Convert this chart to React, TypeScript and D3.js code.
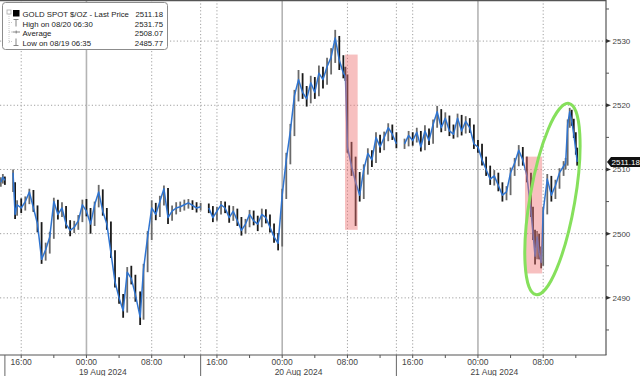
import React from 'react';
import * as d3 from 'd3';

// ---------------- DATA ----------------
const TIMES = [
  // 18 Aug late session
  "08-18 13:30", "08-18 13:45", "08-18 14:00",
  // 18 Aug 15:00 -> 19 Aug 14:00
  "08-18 15:00", "08-18 15:15", "08-18 15:30", "08-18 16:00", "08-18 16:30", "08-18 17:00", "08-18 17:30", "08-18 18:00", "08-18 18:30", "08-18 19:00", "08-18 19:30", "08-18 20:00", "08-18 20:30", "08-18 21:00", "08-18 21:30", "08-18 22:00", "08-18 22:30", "08-18 23:00", "08-18 23:30",
  "08-19 00:00", "08-19 00:30", "08-19 01:00", "08-19 01:30", "08-19 02:00", "08-19 02:30", "08-19 03:00", "08-19 03:30", "08-19 04:00", "08-19 04:30", "08-19 05:00", "08-19 05:30", "08-19 06:00", "08-19 06:35", "08-19 07:00", "08-19 07:30", "08-19 08:00", "08-19 08:30", "08-19 09:00", "08-19 09:30", "08-19 10:00", "08-19 10:30", "08-19 11:00", "08-19 11:30", "08-19 12:00", "08-19 12:30", "08-19 13:00", "08-19 13:30", "08-19 14:00",
  // 19 Aug 15:00 -> 20 Aug 14:00
  "08-19 15:00", "08-19 15:30", "08-19 16:00", "08-19 16:30", "08-19 17:00", "08-19 17:30", "08-19 18:00", "08-19 18:30", "08-19 19:00", "08-19 19:30", "08-19 20:00", "08-19 20:30", "08-19 21:00", "08-19 21:30", "08-19 22:00", "08-19 22:30", "08-19 23:00", "08-19 23:30",
  "08-20 00:00", "08-20 00:30", "08-20 01:00", "08-20 01:30", "08-20 02:00", "08-20 02:30", "08-20 03:00", "08-20 03:30", "08-20 04:00", "08-20 04:30", "08-20 05:00", "08-20 05:30", "08-20 06:00", "08-20 06:30", "08-20 07:00", "08-20 07:30", "08-20 07:45", "08-20 08:00", "08-20 08:30", "08-20 09:00", "08-20 09:30", "08-20 10:00", "08-20 10:30", "08-20 11:00", "08-20 11:30", "08-20 12:00", "08-20 12:30", "08-20 13:00", "08-20 13:30", "08-20 14:00",
  // 20 Aug 15:00 -> 21 Aug
  "08-20 15:00", "08-20 15:30", "08-20 16:00", "08-20 16:30", "08-20 17:00", "08-20 17:30", "08-20 18:00", "08-20 18:30", "08-20 19:00", "08-20 19:30", "08-20 20:00", "08-20 20:30", "08-20 21:00", "08-20 21:30", "08-20 22:00", "08-20 22:30", "08-20 23:00", "08-20 23:30",
  "08-21 00:00", "08-21 00:30", "08-21 01:00", "08-21 01:30", "08-21 02:00", "08-21 02:30", "08-21 03:00", "08-21 03:30", "08-21 04:00", "08-21 04:30", "08-21 05:00", "08-21 05:30", "08-21 06:00", "08-21 06:30", "08-21 06:45", "08-21 07:00", "08-21 07:15", "08-21 07:30", "08-21 07:45", "08-21 08:00", "08-21 08:30", "08-21 09:00", "08-21 09:30", "08-21 10:00", "08-21 10:30", "08-21 10:45", "08-21 11:00", "08-21 11:15", "08-21 11:30", "08-21 11:45", "08-21 12:00", "08-21 12:10",
];

const CLOSE = [
  2508.0, 2508.8, 2508.3,
  2509.5, 2503.0, 2504.5, 2504.0, 2505.0, 2506.5, 2504.0, 2501.5, 2496.0, 2497.5, 2499.5, 2505.0, 2503.0, 2504.0, 2501.5, 2500.5, 2501.0, 2502.0, 2504.5,
  2503.5, 2501.5, 2504.5, 2506.5, 2503.5, 2501.5, 2497.0, 2492.5, 2490.0, 2488.0, 2494.0, 2493.0, 2490.5, 2487.0, 2494.5, 2499.5, 2504.0, 2503.0, 2505.0, 2507.0, 2502.5, 2503.5, 2504.0, 2504.2, 2504.5, 2504.8, 2504.4, 2504.0, 2504.2,
  2504.0, 2502.5, 2503.5, 2504.5, 2504.0, 2502.5, 2503.5, 2502.0, 2500.5, 2501.5, 2503.0, 2502.0, 2501.5, 2503.0, 2502.5, 2501.0, 2499.5, 2498.5,
  2506.0, 2511.5, 2516.0, 2521.5, 2524.0, 2522.0, 2521.0, 2523.5, 2522.0, 2525.0, 2524.0, 2526.0, 2527.5, 2530.5, 2527.0, 2525.0, 2524.5, 2513.5, 2510.5, 2508.0, 2506.0, 2510.0, 2512.5, 2511.5, 2515.0, 2513.5, 2515.0, 2516.5, 2515.5, 2514.0,
  2514.0, 2515.3, 2514.5, 2515.8, 2513.5, 2516.0, 2514.5, 2517.0, 2519.0, 2516.5, 2518.0, 2516.0, 2515.5, 2518.0, 2516.0, 2517.5, 2516.5, 2514.0,
  2513.5, 2511.5, 2510.0, 2508.5, 2509.0, 2507.5, 2506.0, 2506.5, 2509.5, 2511.0, 2513.0, 2511.5, 2509.0, 2503.5, 2500.0, 2496.5, 2499.5, 2497.0, 2495.5, 2503.5, 2508.5, 2506.0, 2507.5, 2509.5, 2510.5, 2511.0, 2517.0, 2519.0, 2517.5, 2515.5, 2513.0, 2511.18,
];

const HIGH = [
  2508.8, 2509.3, 2508.9,
  2510.0, 2508.0, 2505.2, 2505.5, 2505.8, 2507.0, 2506.8, 2504.4, 2501.8, 2498.6, 2500.3, 2505.6, 2505.3, 2504.9, 2504.3, 2502.1, 2502.0, 2502.9, 2505.3,
  2505.4, 2504.0, 2505.0, 2507.6, 2506.9, 2504.0, 2501.9, 2497.4, 2493.2, 2490.6, 2494.8, 2495.0, 2493.6, 2491.0, 2495.3, 2500.4, 2505.2, 2504.8, 2505.9, 2507.5, 2507.1, 2504.4, 2504.9, 2505.0, 2505.3, 2505.4, 2505.2, 2504.9, 2504.8,
  2504.7, 2504.3, 2504.2, 2505.1, 2505.0, 2504.4, 2504.3, 2503.9, 2502.6, 2502.3, 2503.7, 2503.6, 2502.8, 2503.9, 2503.8, 2503.0, 2501.6, 2500.1,
  2507.0, 2512.6, 2517.1, 2522.4, 2525.5, 2525.0, 2523.0, 2524.6, 2524.4, 2526.2, 2526.0, 2527.4, 2528.9, 2531.75, 2530.8, 2527.8, 2526.0, 2524.8, 2514.3, 2512.0, 2509.6, 2510.8, 2513.3, 2513.0, 2515.8, 2515.4, 2515.9, 2517.2, 2517.0, 2515.8,
  2514.8, 2516.0, 2515.8, 2516.5, 2516.0, 2516.9, 2516.4, 2517.8, 2519.9, 2519.4, 2518.9, 2518.4, 2517.0, 2518.7, 2518.5, 2518.3, 2518.0, 2517.0,
  2514.6, 2514.0, 2512.0, 2510.6, 2509.9, 2509.5, 2508.0, 2507.4, 2510.3, 2511.8, 2513.8, 2513.5, 2512.0, 2509.5, 2504.2, 2500.6, 2500.4, 2500.0, 2498.0, 2504.2, 2509.3, 2509.0, 2508.4, 2510.2, 2511.3, 2511.8, 2517.8, 2519.6, 2519.3, 2517.9, 2515.8, 2513.4,
];

const LOW = [
  2507.3, 2507.8, 2507.6,
  2506.5, 2502.3, 2502.8, 2503.2, 2503.6, 2504.6, 2503.4, 2500.2, 2495.3, 2495.8, 2496.9, 2499.2, 2502.2, 2502.6, 2500.8, 2499.6, 2500.1, 2500.6, 2501.8,
  2502.7, 2500.0, 2501.2, 2504.1, 2502.8, 2500.6, 2496.2, 2491.6, 2489.1, 2486.9, 2487.7, 2492.1, 2489.4, 2485.77, 2486.6, 2494.0, 2499.0, 2502.1, 2502.6, 2504.4, 2501.5, 2502.0, 2503.0, 2503.4, 2503.6, 2503.9, 2503.7, 2503.3, 2503.6,
  2503.2, 2501.8, 2502.0, 2503.0, 2503.2, 2501.7, 2502.0, 2501.2, 2499.7, 2500.0, 2501.0, 2501.3, 2500.4, 2501.0, 2501.6, 2500.2, 2498.6, 2497.4,
  2498.0, 2505.4, 2510.8, 2515.2, 2520.6, 2521.0, 2519.8, 2520.3, 2521.0, 2521.4, 2522.6, 2523.2, 2524.8, 2526.6, 2525.5, 2524.2, 2523.8, 2512.6, 2509.0, 2501.2, 2505.0, 2505.4, 2509.2, 2510.4, 2511.0, 2512.6, 2513.0, 2514.4, 2514.6, 2513.3,
  2513.2, 2513.6, 2513.7, 2514.2, 2512.8, 2513.0, 2513.8, 2514.0, 2516.5, 2515.8, 2516.0, 2515.2, 2514.8, 2515.0, 2515.3, 2515.6, 2515.7, 2513.2,
  2512.6, 2510.6, 2509.0, 2507.6, 2507.5, 2506.6, 2505.0, 2505.2, 2506.0, 2509.0, 2510.5, 2510.6, 2508.0, 2502.6, 2499.0, 2495.2, 2496.0, 2496.0, 2494.6, 2495.0, 2503.0, 2505.0, 2505.4, 2507.0, 2509.0, 2510.0, 2510.6, 2516.5, 2516.8, 2514.9, 2512.3, 2510.6,
];

const Y_TICKS = [2490, 2500, 2510, 2520, 2530];
const Y_MINOR = [2485, 2495, 2505, 2515, 2525, 2535];
const SESSION_BOUNDS = ["08-18 14:00", "08-19 14:00", "08-20 14:00", "08-21 14:00"];
const DAY_LABELS = ["19 Aug 2024", "20 Aug 2024", "21 Aug 2024"];
const LEGEND_ROWS = [
  { label: "GOLD SPOT $/OZ - Last Price", value: "2511.18" },
  { label: "High on 08/20 06:30", value: "2531.75" },
  { label: "Average", value: "2508.07" },
  { label: "Low on 08/19 06:35", value: "2485.77" },
];
const LAST_PRICE = 2511.18;
const HIGHLIGHTS = [
  { from: "08-20 07:42", to: "08-20 09:15", top: 2527.9, bottom: 2500.6 },
  { from: "08-21 05:46", to: "08-21 07:52", top: 2512.0, bottom: 2493.8 },
];
const CIRCLE_CENTER = { t: "08-21 09:08", price: 2505.4 };

// ---------------- CHART ----------------
const parse = d3.utcParse("%Y-%m-%d %H:%M");
const toDate = (s: string) => parse("2024-" + s) as Date;

const W = 640, H = 376;
const PR = 606; // plot right
const PB = 355; // plot bottom
const FONT = "'Liberation Sans', Arial, sans-serif";

export default function App() {
  const x = d3.scaleUtc()
    .domain([new Date(Date.UTC(2024, 7, 18, 13, 24)), new Date(Date.UTC(2024, 7, 21, 15, 42))])
    .range([0, PR]);
  const y = d3.scaleLinear().domain([2481.1, 2536.4]).range([PB, 0]);

  const pts = TIMES.map((t, i) => ({ d: toDate(t), c: CLOSE[i], h: HIGH[i], l: LOW[i], o: i > 0 ? CLOSE[i - 1] : CLOSE[i] }));
  // split sessions where gap > 50 min
  const segs: typeof pts[] = [];
  pts.forEach((p, i) => {
    if (i === 0 || +p.d - +pts[i - 1].d > 50 * 60000) segs.push([]);
    segs[segs.length - 1].push(p);
  });
  const line = d3.line<typeof pts[0]>().x(p => x(p.d)).y(p => y(p.c));

  const [d0, d1] = x.domain();
  const hourTicks = d3.utcHour.every(8)!.range(d0, d1);
  const minorTicks = d3.utcHour.every(4)!.range(d0, d1);
  const bounds = SESSION_BOUNDS.map(toDate);

  const dotted = "1.2,2.2";

  const cc = { x: x(toDate(CIRCLE_CENTER.t)), y: y(CIRCLE_CENTER.price) };
  const ly = y(LAST_PRICE);

  return (
    <svg width={W} height={H} style={{ position: 'absolute', left: 0, top: 0, background: '#fff' }} fontFamily={FONT}>
      <rect x={0} y={0} width={W} height={H} fill="#fff" />
      {/* horizontal gridlines */}
      {Y_TICKS.map(v => (
        <line key={v} x1={0} x2={PR} y1={y(v)} y2={y(v)} stroke="#a0a0a0" strokeWidth={1} strokeDasharray={dotted} />
      ))}
      {/* vertical gridlines */}
      {hourTicks.map((d, i) => {
        const midnight = d.getUTCHours() === 0;
        return midnight
          ? <line key={i} x1={x(d)} x2={x(d)} y1={0} y2={PB} stroke="#b4b4b4" strokeWidth={1.6} />
          : <line key={i} x1={x(d)} x2={x(d)} y1={0} y2={PB} stroke="#a0a0a0" strokeWidth={1} strokeDasharray={dotted} />;
      })}
      {bounds.slice(1, 3).map((d, i) => (
        <line key={i} x1={x(d)} x2={x(d)} y1={0} y2={PB} stroke="#a0a0a0" strokeWidth={1} strokeDasharray={dotted} />
      ))}

      {/* price wicks */}
      {pts.map((p, i) => (
        <line key={i} x1={x(p.d)} x2={x(p.d)} y1={y(p.h)} y2={y(p.l)}
          stroke={p.c >= p.o ? "#6a6a6a" : "#1a1a1a"} strokeWidth={1.8} />
      ))}
      {/* price line */}
      {segs.map((s, i) => (
        <path key={i} d={line(s) || ""} fill="none" stroke="#2f74d0" strokeWidth={1.5} strokeLinejoin="round" />
      ))}

      {/* highlight boxes */}
      {HIGHLIGHTS.map((b, i) => (
        <rect key={i} x={x(toDate(b.from))} width={x(toDate(b.to)) - x(toDate(b.from))}
          y={y(b.top)} height={y(b.bottom) - y(b.top)} fill="rgba(238,115,115,0.45)" />
      ))}
      {/* green ellipse */}
      <ellipse cx={cc.x} cy={cc.y} rx={22.5} ry={97} transform={`rotate(9.8 ${cc.x} ${cc.y})`}
        fill="none" stroke="#86e05c" strokeWidth={3} />

      {/* frame */}
      <line x1={0} x2={PR} y1={0.5} y2={0.5} stroke="#555" strokeWidth={1.5} />
      <line x1={0} x2={PR + 0.5} y1={PB} y2={PB} stroke="#555" strokeWidth={1.2} />
      <line x1={PR} x2={PR} y1={0} y2={PB} stroke="#555" strokeWidth={1.2} />

      {/* right axis */}
      {Y_MINOR.map(v => (
        <line key={v} x1={PR} x2={PR + 3} y1={y(v)} y2={y(v)} stroke="#555" strokeWidth={1} />
      ))}
      {Y_TICKS.map(v => (
        <g key={v}>
          <path d={`M${PR},${y(v) - 2}L${PR + 5},${y(v)}L${PR},${y(v) + 2}Z`} fill="#333" />
          <text x={PR + 6.5} y={y(v) + 3} fontSize={8} fill="#444">{v}</text>
        </g>
      ))}
      {/* last price badge */}
      <path d={`M${PR + 1},${ly} L${PR + 5},${ly - 5} H${W + 2} V${ly + 5} H${PR + 5} Z`} fill="#111" />
      <text x={PR + 5.5} y={ly + 3} fontSize={8} fill="#fff">{LAST_PRICE.toFixed(2)}</text>

      {/* bottom axis */}
      {minorTicks.map((d, i) => (
        <line key={i} x1={x(d)} x2={x(d)} y1={PB} y2={PB + 3} stroke="#555" strokeWidth={1} />
      ))}
      {bounds.slice(0, 3).map((d, i) => (
        <line key={i} x1={x(d)} x2={x(d)} y1={PB} y2={H} stroke="#666" strokeWidth={1} />
      ))}
      {hourTicks.map((d, i) => (
        <text key={i} x={x(d)} y={365} fontSize={8.5} fill="#444" textAnchor="middle">{d3.utcFormat("%H:%M")(d)}</text>
      ))}
      {DAY_LABELS.map((lab, i) => (
        <text key={lab} x={(x(bounds[i]) + x(bounds[i + 1])) / 2} y={374.5} fontSize={8.5} fill="#444" textAnchor="middle">{lab}</text>
      ))}

      {/* legend */}
      <g>
        <rect x={2.5} y={2.5} width={165} height={47} rx={3} fill="#fff" stroke="#8c8c8c" strokeWidth={1} />
        <rect x={7} y={10} width={4} height={4} fill="none" stroke="#aaa" strokeWidth={0.8} />
        <line x1={9} x2={9} y1={14} y2={43} stroke="#bbb" strokeWidth={0.8} strokeDasharray="1,1" />
        {[22.5, 32, 41.5].map(yy => (
          <line key={yy} x1={9} x2={13} y1={yy} y2={yy} stroke="#bbb" strokeWidth={0.8} strokeDasharray="1,1" />
        ))}
        <rect x={13} y={10} width={6.5} height={6.5} fill="#000" />
        {/* High glyph */}
        <line x1={13.5} x2={18.5} y1={19.5} y2={19.5} stroke="#777" strokeWidth={0.9} />
        <line x1={16} x2={16} y1={19.5} y2={26.5} stroke="#777" strokeWidth={0.9} />
        {/* Average glyph */}
        <line x1={12.5} x2={20} y1={32} y2={32} stroke="#777" strokeWidth={0.9} />
        <line x1={16.2} x2={16.2} y1={30.5} y2={33.5} stroke="#777" strokeWidth={0.9} />
        {/* Low glyph */}
        <line x1={16} x2={16} y1={38.5} y2={45.5} stroke="#777" strokeWidth={0.9} />
        <line x1={13.5} x2={18.5} y1={45.5} y2={45.5} stroke="#777" strokeWidth={0.9} />
        {LEGEND_ROWS.map((r, i) => (
          <g key={i}>
            <text x={22.5} y={17 + i * 9.5} fontSize={7.8} fill="#222">{r.label}</text>
            <text x={163} y={17 + i * 9.5} fontSize={7.8} fill="#222" textAnchor="end">{r.value}</text>
          </g>
        ))}
      </g>
    </svg>
  );
}
